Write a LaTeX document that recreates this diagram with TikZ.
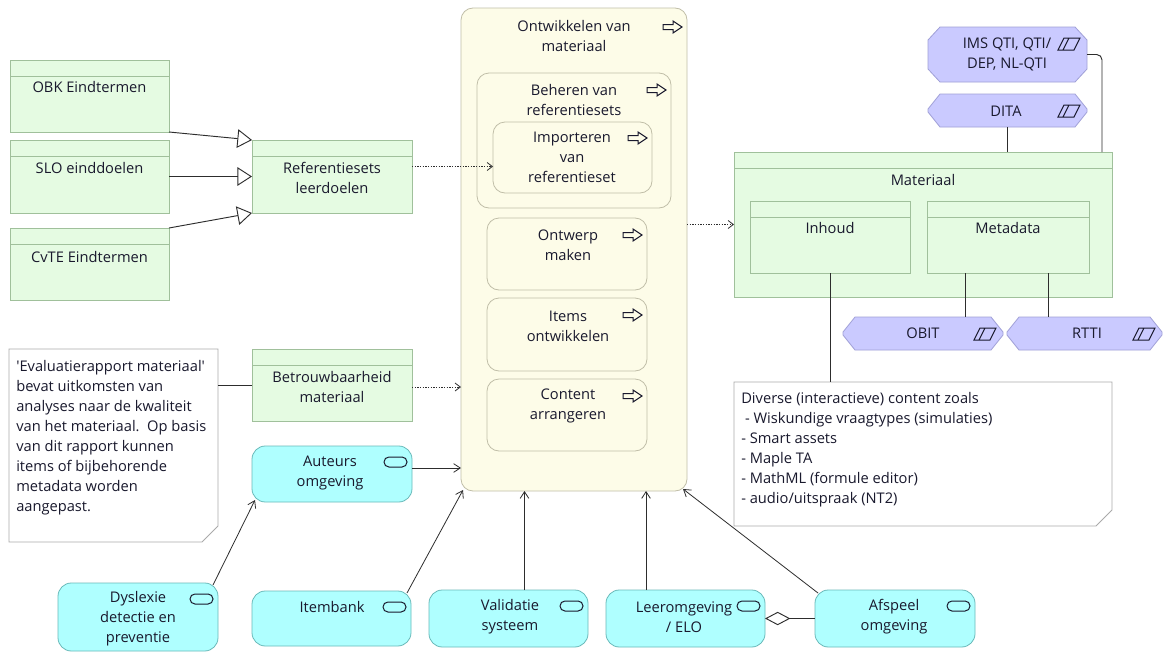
\documentclass[tikz,border=0pt]{standalone}
\usepackage{fontspec}
\setmainfont{Open Sans}[Ligatures=TeXOff]
\usetikzlibrary{arrows.meta,calc}

\definecolor{ink}{RGB}{25,25,45}
\definecolor{lin}{RGB}{45,45,45}
\definecolor{gfill}{RGB}{229,251,226}
\definecolor{gborder}{RGB}{160,192,155}
\definecolor{yfill}{RGB}{253,252,232}
\definecolor{yborder}{RGB}{192,190,168}
\definecolor{cfill}{RGB}{175,255,255}
\definecolor{cborder}{RGB}{105,185,185}
\definecolor{pfill}{RGB}{202,202,255}
\definecolor{pborder}{RGB}{160,160,215}
\definecolor{nborder}{RGB}{170,170,170}

\tikzset{
  wh/.style 2 args={minimum width=#1*0.75pt, minimum height=#2*0.75pt, inner sep=0pt, outer sep=0pt},
  gbox/.style={draw=gborder, fill=gfill, line width=0.6pt,
    path picture={\draw[gborder, line width=0.6pt]
      ([yshift=-12pt]path picture bounding box.north west) --
      ([yshift=-12pt]path picture bounding box.north east);}},
  proc/.style={draw=yborder, fill=yfill, line width=0.6pt, rounded corners=9pt},
  svc/.style={draw=cborder, fill=cfill, line width=0.6pt, rounded corners=10pt},
  pobj/.style={draw=pborder, fill=pfill, line width=0.6pt},
  notestyle/.style={draw=nborder, fill=white, line width=0.6pt},
  ghost/.style={},
  icon/.style={draw=ink, line width=0.75pt},
  txt/.style={font=\fontsize{11}{15}\selectfont, text=ink, align=center, inner sep=0pt},
  ltxt/.style={txt, align=left, anchor=north west},
  conn/.style={draw=lin, line width=0.7pt},
  spec/.style={conn, -{Triangle[open, length=11pt, width=14pt]}},
  acc/.style={conn, line width=0.6pt, dash pattern=on 1pt off 1pt, -{Straight Barb[length=4pt, width=6pt]}},
  serve/.style={conn, line width=0.6pt, -{Straight Barb[length=5pt, width=6.5pt]}},
  plain/.style={conn},
  agg/.style={conn, {Diamond[open, length=19pt, width=10pt]}-},
}

% passive object with a chamfered hexagonal outline (#2 = vertical chamfer, px)
\newcommand\dataobj[2]{%
  \filldraw[pobj] ([xshift=9pt]#1.north west) -- ([xshift=-9pt]#1.north east)
    -- ([yshift=-#2*0.75pt]#1.north east) -- ([yshift=#2*0.75pt]#1.south east)
    -- ([xshift=-9pt]#1.south east) -- ([xshift=9pt]#1.south west)
    -- ([yshift=#2*0.75pt]#1.south west) -- ([yshift=-#2*0.75pt]#1.north west) -- cycle;}
% note with a cut bottom-right corner
\newcommand\notebox[1]{%
  \filldraw[notestyle] (#1.north west) -- (#1.north east) -- ([yshift=12pt]#1.south east)
    -- ([xshift=-12pt]#1.south east) -- (#1.south west) -- cycle;}
% process icon: hollow block arrow (#2 = vertical offset from the top, px)
\newcommand\procicon[2]{%
  \draw[icon] ([shift={(-24,#2)}]#1.north east) ++(0,-2.5) -- ++(10,0) -- ++(0,-3.5)
    -- ++(9,6) -- ++(-9,6) -- ++(0,-3.5) -- ++(-10,0) -- cycle;}
% service icon: capsule
\newcommand\svcicon[1]{%
  \draw[icon, rounded corners=3.7pt] ([shift={(-28,11)}]#1.north east) rectangle ++(23,10);}
% representation icon: parallelogram with an inner stroke
\newcommand\repicon[1]{%
  \draw[icon] ([shift={(-23,11)}]#1.north east) -- ([shift={(-7,11)}]#1.north east)
    -- ([shift={(-13,23)}]#1.north east) -- ([shift={(-29,23)}]#1.north east) -- cycle
    ([shift={(-24,23)}]#1.north east) -- ([shift={(-18,11)}]#1.north east);}

\begin{document}
\begin{tikzpicture}[x=0.75pt,y=-0.75pt]
\useasboundingbox[fill=white] (0,0) rectangle (1163,653);

% ---------- business objects (left) ----------
\node[gbox, wh={159}{72}] (obk)  at (89.5,96)   {};
\node[gbox, wh={159}{73}] (slo)  at (89.5,176.5) {};
\node[gbox, wh={159}{72}] (cvte) at (89.5,264)  {};
\node[gbox, wh={160}{73}] (ref)  at (332,176.5) {};
\node[gbox, wh={160}{72}] (betr) at (332,385)   {};
\node[txt] (t-obk)  at (89.5,87)  {OBK Eindtermen};
\node[txt] (t-slo)  at (89.5,168) {SLO einddoelen};
\node[txt] (t-cvte) at (89.5,257) {CvTE Eindtermen};
\node[txt] (t-ref)  at (332,178)  {Referentiesets\\leerdoelen};
\node[txt] (t-betr) at (332,387)  {Betrouwbaarheid\\materiaal};

% ---------- process hierarchy ----------
\node[proc, wh={226}{483}] (big)   at (574,249.5) {};
\node[proc, wh={194}{135}] (beh)   at (574,140.5) {};
\node[proc, wh={159}{71}]  (imp)   at (572.5,157.5) {};
\node[proc, wh={160}{72}]  (ont)   at (567,254)   {};
\node[proc, wh={160}{73}]  (items) at (567,334.5) {};
\node[proc, wh={160}{72}]  (cont)  at (567,415)   {};
\procicon{big}{19}
\procicon{beh}{17}
\procicon{imp}{16}
\procicon{ont}{17}
\procicon{items}{17}
\procicon{cont}{17}
\node[txt] (t-big)   at (574,36)  {Ontwikkelen van\\materiaal};
\node[txt] (t-beh)   at (574,100) {Beheren van\\referentiesets};
\node[txt] (t-imp)   at (572,157) {Importeren\\van\\referentieset};
\node[txt] (t-ont)   at (568,245) {Ontwerp\\maken};
\node[txt] (t-items) at (568,326) {Items\\ontwikkelen};
\node[txt] (t-cont)  at (568,406) {Content\\arrangeren};

% ---------- Materiaal ----------
\node[gbox, wh={378}{145}] (mat)  at (923,224.5) {};
\node[gbox, wh={160}{72}]  (inh)  at (830,237)   {};
\node[gbox, wh={162}{72}]  (meta) at (1008,237)  {};
\node[txt] (t-mat)  at (923,180)  {Materiaal};
\node[txt] (t-inh)  at (830,228)  {Inhoud};
\node[txt] (t-meta) at (1008,228) {Metadata};

% ---------- representations ----------
\node[ghost, wh={159}{55}] (ims)  at (1007.5,54.5)  {};
\node[ghost, wh={159}{33}] (dita) at (1007.5,110.5) {};
\node[ghost, wh={160}{33}] (obit) at (923,333.5)    {};
\node[ghost, wh={155}{33}] (rtti) at (1084.5,333.5) {};
\dataobj{ims}{13}
\dataobj{dita}{15}
\dataobj{obit}{15}
\dataobj{rtti}{15}
\repicon{ims}
\repicon{dita}
\repicon{obit}
\repicon{rtti}
\node[txt] (t-ims)  at (1007,54.5) {IMS QTI, QTI/\\DEP, NL-QTI};
\node[txt] (t-dita) at (1006,111)  {DITA};
\node[txt] (t-obit) at (923,333)   {OBIT};
\node[txt] (t-rtti) at (1087,333)  {RTTI};

% ---------- application services ----------
\node[svc, wh={160}{56}] (aut)  at (332,474)    {};
\node[svc, wh={160}{68}] (dys)  at (138,617)    {};
\node[svc, wh={159}{55}] (item) at (331.5,618.5) {};
\node[svc, wh={159}{57}] (val)  at (508.5,618.5) {};
\node[svc, wh={159}{57}] (leer) at (685.5,618.5) {};
\node[svc, wh={160}{57}] (afs)  at (895,618.5)   {};
\svcicon{aut}
\svcicon{dys}
\svcicon{item}
\svcicon{val}
\svcicon{leer}
\svcicon{afs}
\node[txt] (t-aut)  at (330,473)  {Auteurs\\omgeving};
\node[txt] (t-dys)  at (138,619)  {Dyslexie\\detectie en\\preventie};
\node[txt] (t-item) at (332,607)  {Itembank};
\node[txt] (t-val)  at (510,617)  {Validatie\\systeem};
\node[txt] (t-leer) at (684,617)  {Leeromgeving\\/ ELO};
\node[txt] (t-afs)  at (894,617)  {Afspeel\\omgeving};

% ---------- notes ----------
\node[ghost, wh={209}{193}] (note1) at (113.5,445.5) {};
\node[ghost, wh={378}{144}] (note2) at (923,454)     {};
\notebox{note1}
\notebox{note2}
\node[ltxt] (t-note1) at (16,360) {'Evaluatierapport materiaal'\\bevat uitkomsten van\\analyses naar de kwaliteit\\van het materiaal.\ \ Op basis\\van dit rapport kunnen\\items of bijbehorende\\metadata worden\\aangepast.};
\node[ltxt] (t-note2) at (741,392) {Diverse (interactieve) content zoals\\\ - Wiskundige vraagtypes (simulaties)\\- Smart assets\\- Maple TA\\- MathML (formule editor)\\- audio/uitspraak (NT2)};

% ---------- connectors ----------
\draw[spec] (obk.south east) -- (ref.north west);
\draw[spec] (slo.east) -- (ref.west);
\draw[spec] (cvte.north east) -- (ref.south west);
\draw[acc] ([yshift=7.5pt]ref.east) -- ([yshift=7.5pt]ref.east -| imp.west);
\draw[acc] (mat.west -| big.east) -- (mat.west);
\draw[plain] (betr.west -| note1.east) -- (betr.west);
\draw[acc] ([yshift=-1.5pt]betr.east) -- ([yshift=-1.5pt]betr.east -| big.west);
\draw[serve] ([yshift=4.5pt]aut.east) -- ([yshift=4.5pt]aut.east -| big.west);
\draw[serve] ([shift={(-5,2)}]dys.north east) -- ([shift={(3,-2)}]aut.south west);
\draw[serve] ([shift={(-4,2)}]item.north east) -- ([shift={(2,-1)}]big.south west);
\draw[serve] ([xshift=12pt]val.north) -- ([xshift=12pt]val.north |- big.south);
\draw[serve] ([xshift=-29.6pt]leer.north) -- ([xshift=-29.6pt]leer.north |- big.south);
\draw[serve] ([shift={(3,3)}]afs.north west) -- ([shift={(-4,-2)}]big.south east);
\draw[agg] (leer.east) -- (afs.west);
\draw[plain] (dita.south) -- (dita.south |- mat.north);
\draw[plain, rounded corners=4pt] (ims.east) -| ([xshift=-7.5pt]mat.north east);
\draw[plain] (inh.south) -- (inh.south |- note2.north);
\draw[plain] ([xshift=-32.25pt]meta.south) -- ([xshift=-32.25pt]meta.south |- obit.north);
\draw[plain] ([xshift=30pt]meta.south) -- ([xshift=30pt]meta.south |- rtti.north);
\end{tikzpicture}
\end{document}
